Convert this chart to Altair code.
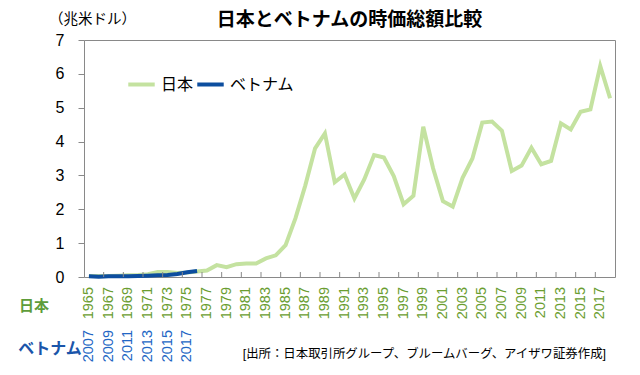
import altair as alt
import pandas as pd

japan_years = list(range(1965, 2019))
japan_values = [0.03, 0.03, 0.03, 0.04, 0.05, 0.06, 0.08, 0.15, 0.15, 0.12,
                0.13, 0.16, 0.19, 0.35, 0.29, 0.38, 0.40, 0.40, 0.55, 0.64,
                0.94, 1.73, 2.70, 3.80, 4.24, 2.80, 3.03, 2.32, 2.88, 3.60,
                3.53, 2.98, 2.15, 2.40, 4.44, 3.21, 2.24, 2.08, 2.93, 3.50,
                4.56, 4.59, 4.32, 3.13, 3.29, 3.82, 3.33, 3.43, 4.54, 4.36,
                4.88, 4.95, 6.23, 5.28]
vietnam_years = list(range(2007, 2019))
vietnam_values = [0.02, 0.01, 0.02, 0.02, 0.02, 0.03, 0.04, 0.05, 0.06, 0.09,
                  0.14, 0.18]
series_names = ["日本", "ベトナム"]
japan_label_years = japan_years[::2]
vietnam_label_years = vietnam_years[::2]
y_ticks = [0, 1, 2, 3, 4, 5, 6, 7]

title_text = "日本とベトナムの時価総額比較"
unit_text = "（兆米ドル）"
source_text = "[出所：日本取引所グループ、ブルームバーグ、アイザワ証券作成]"

FONT = "Liberation Sans, Noto Sans CJK JP"
JP_COLOR = "#c4e2a0"
VN_COLOR = "#0d4e9f"
JP_LABEL = "#6a9d2f"
VN_LABEL = "#2266c4"
FRAME = "#898989"

n = len(japan_years)
xscale = alt.Scale(domain=[-0.5, n - 0.5], nice=False, zero=False)

jp_df = pd.DataFrame({"idx": list(range(n)), "value": japan_values,
                      "series": series_names[0]})
vn_df = pd.DataFrame({"idx": list(range(len(vietnam_years))), "value": vietnam_values,
                      "series": series_names[1]})

legend = alt.Legend(orient="none", legendX=42, legendY=29, direction="horizontal",
                    title=None, labelFontSize=16, labelFont=FONT, labelColor="black",
                    symbolType="stroke", symbolStrokeWidth=4, symbolSize=700,
                    labelOffset=4, columnPadding=-5, gridAlign="none")
color = alt.Color("series:N", scale=alt.Scale(domain=series_names,
                                               range=[JP_COLOR, VN_COLOR]),
                  legend=legend)
yenc = alt.Y("value:Q", scale=alt.Scale(domain=[0, 7], nice=False),
             axis=alt.Axis(values=y_ticks, title=None, grid=False, domain=False,
                           tickSize=6, tickColor=FRAME, labelFontSize=16,
                           labelFont=FONT, labelPadding=14, labelColor="black"))

jp_line = alt.Chart(jp_df).mark_line(strokeWidth=4).encode(
    x=alt.X("idx:Q", scale=xscale, axis=None), y=yenc, color=color)
vn_line = alt.Chart(vn_df).mark_line(strokeWidth=4).encode(
    x=alt.X("idx:Q", scale=xscale, axis=None), y=yenc, color=color)

tick_df = pd.DataFrame({"pos": [i + 0.5 for i in range(1, n - 1, 2)]})
ticks = alt.Chart(tick_df).mark_rule(color=FRAME, strokeWidth=1).encode(
    x=alt.X("pos:Q", scale=xscale, axis=None),
    y=alt.value(232), y2=alt.value(237))

jl_df = pd.DataFrame({"idx": [japan_years.index(y) for y in japan_label_years],
                      "label": [str(y) for y in japan_label_years]})
jp_labels = alt.Chart(jl_df).mark_text(angle=270, align="right", baseline="middle",
                                        fontSize=14.5, font=FONT, color=JP_LABEL).encode(
    x=alt.X("idx:Q", scale=xscale, axis=None), y=alt.value(247), text="label:N")

vl_df = pd.DataFrame({"idx": [vietnam_years.index(y) for y in vietnam_label_years],
                      "label": [str(y) for y in vietnam_label_years]})
vn_labels = alt.Chart(vl_df).mark_text(angle=270, align="right", baseline="middle",
                                        fontSize=14.5, font=FONT, color=VN_LABEL).encode(
    x=alt.X("idx:Q", scale=xscale, axis=None), y=alt.value(290), text="label:N")


def text_layer(txt, x, y, size, color="black", bold=False, align="center"):
    return alt.Chart(pd.DataFrame({"t": [txt]})).mark_text(
        fontSize=size, font=FONT, color=color, align=align, baseline="middle",
        fontWeight="bold" if bold else "normal").encode(
        text="t:N", x=alt.value(x), y=alt.value(y))


title = text_layer(title_text, 265.5, -20, 19, bold=True)
unit = text_layer(unit_text, 8.5, -20.5, 14.5)
row_jp = text_layer(series_names[0], -50, 266, 15, color="#5e9c3a", bold=True)
row_vn = text_layer(series_names[1], -34, 309, 16, color="#1a55aa", bold=True)
source = text_layer(source_text, 522, 314, 12.4, align="right")

chart = alt.layer(jp_line, vn_line, ticks, jp_labels, vn_labels, title, unit,
                  row_jp, row_vn, source).properties(
    width=531, height=237,
    autosize=alt.AutoSizeParams(type="none"),
    padding={"left": 76, "top": 32, "right": 17, "bottom": 90},
).configure_view(stroke=FRAME, strokeWidth=1)

chart.save("out.html", embed_options={"renderer": "svg", "actions": False})
